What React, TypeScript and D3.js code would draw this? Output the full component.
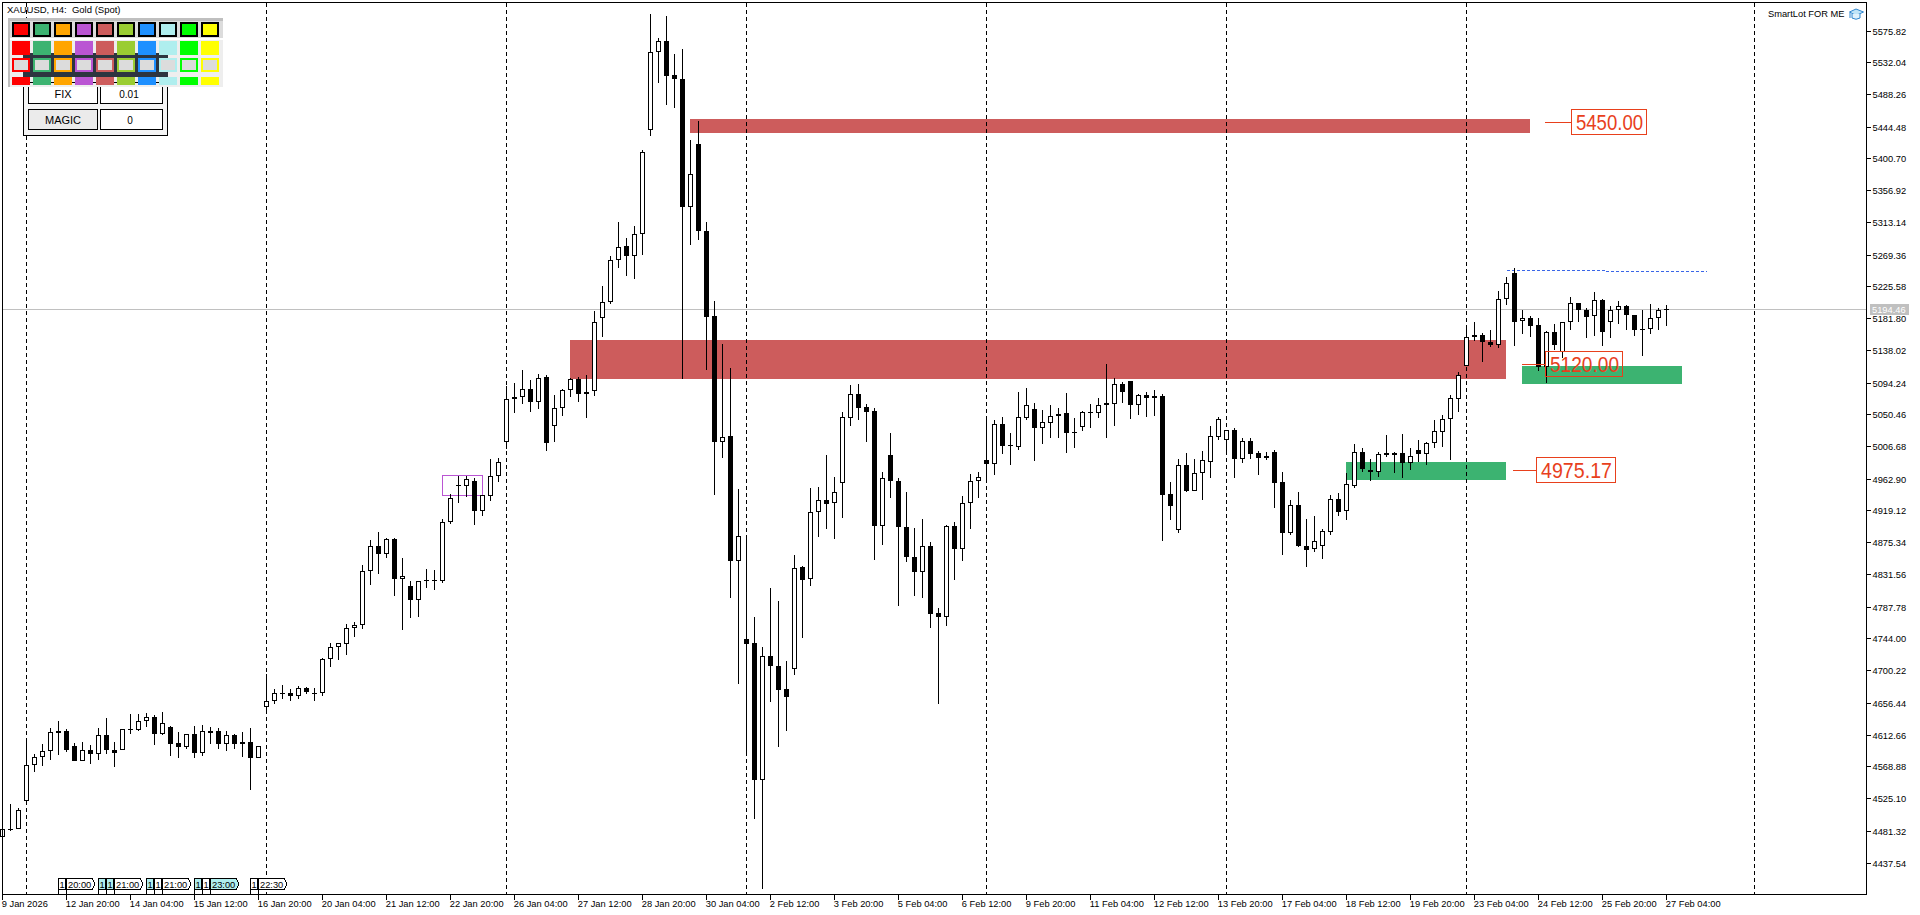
import React from 'react';
import * as d3 from 'd3';

const W = 1920, H = 915;

const opens = [
4472,4484,4484,4521,4571,4582,4590,4618,4617,4597,
4577,4592,4586,4612,4591,4592,4620,4619,4631,4636,
4614,4623,4601,4595,4613,4588,4618,4618,4600,4612,
4602,4602,4581,4650,4658,4670,4669,4666,4676,4670,
4670,4716,4733,4737,4759,4762,4836,4870,4860,4880,
4826,4816,4797,4824,4824,4822,4904,4954,4953,4960,
4919,4939,4966,5013,5071,5074,5085,5068,5102,5035,
5060,5084,5099,5078,5082,5182,5205,5262,5281,5267,
5298,5440,5546,5562,5515,5510,5335,5420,5302,5185,
5013,5021,4850,4743,4738,4550,4720,4707,4675,4702,
4842,4825,4917,4934,4929,4957,5046,5079,5061,5055,
4898,4995,4960,4897,4856,4835,4871,4779,4774,4898,
4867,4930,4960,4988,4983,5037,5009,5006,5046,5058,
5032,5039,5048,5053,5026,5034,5054,5053,5063,5065,
5092,5096,5064,5077,5076,5076,4942,4893,4981,4946,
4971,4986,5020,5015,5029,4990,5014,4998,4994,4999,
4958,4888,4927,4871,4866,4871,4890,4935,4918,4953,
4999,4975,4972,4998,4998,4998,4984,5002,4997,5012,
5027,5044,5072,5117,5159,5159,5149,5146,5208,5244,
5178,5183,5173,5115,5164,5136,5177,5203,5194,5185,
5207,5177,5193,5199,5186,5168,5168,5182,5193.5];

const closes = [
4483,4482,4510,4571,4582,4590,4616,4615,4592,4577,
4592,4586,4612,4591,4588,4620,4619,4631,4636,4614,
4628,4600,4595,4613,4587,4617,4615,4600,4612,4600,
4600,4581,4597,4658,4670,4669,4666,4676,4671,4669,
4716,4733,4738,4759,4762,4836,4870,4860,4880,4826,
4829,4797,4822,4822,4822,4904,4936,4952,4962,4919,
4940,4966,4986,5071,5074,5085,5068,5101,5012,5060,
5084,5099,5078,5081,5177,5205,5262,5279,5267,5298,
5409,5546,5562,5514,5510,5335,5380,5301,5184,5013,
5020,4850,4884,4737,4550,4720,4706,4674,4664,4841,
4824,4917,4933,4928,4944,5047,5079,5060,5054,4898,
4963,4959,4896,4855,4835,4871,4778,4773,4898,4867,
4929,4960,4965,4983,5037,5007,5007,5047,5063,5032,
5040,5048,5051,5025,5025,5054,5053,5063,5066,5092,
5081,5064,5077,5073,5073,4940,4925,4981,4946,4971,
4988,5021,5044,5029,4990,5014,4996,4991,4991,4957,
4888,4926,4871,4865,4878,4891,4935,4917,4955,4999,
4976,4972,4997,4995,4995,4984,4994,4996,5012,5028,
5044,5073,5104,5157,5157,5150,5146,5208,5230,5177,
5183,5172,5115,5164,5145,5177,5203,5193,5184,5207,
5164,5193,5199,5186,5166,5167,5183,5194,5194.46];

const highs = [
4484,4518,4512,4605,4586,4600,4621,4631,4620,4601,
4602,4598,4621,4635,4602,4620,4641,4641,4642,4639,
4644,4624,4616,4614,4624,4626,4623,4621,4618,4613,
4616,4621,4597,4695,4675,4680,4675,4679,4677,4676,
4717,4738,4738,4764,4767,4845,4879,4890,4881,4882,
4854,4822,4822,4839,4838,4907,4942,4966,4966,4964,
4940,4990,4991,5089,5093,5111,5098,5106,5105,5077,
5086,5101,5102,5105,5192,5226,5267,5314,5292,5308,
5412,5598,5566,5596,5544,5551,5426,5452,5314,5206,
5147,5114,4949,4886,4773,4733,4813,4795,4713,4858,
4843,4950,4951,4995,4965,5054,5091,5092,5065,5059,
4972,5025,4963,4945,4895,4908,4876,4786,4899,4903,
4939,4969,4972,5049,5043,5047,5025,5081,5087,5066,
5057,5064,5059,5080,5045,5055,5065,5073,5120,5100,
5095,5096,5079,5081,5084,5079,4958,4990,4998,4990,
5001,5035,5047,5029,5032,5018,5018,5001,4999,5002,
4972,4934,4945,4908,4912,4894,4940,4943,4970,5010,
5004,4990,4999,5022,4999,5024,5004,5016,5013,5043,
5050,5077,5109,5171,5177,5162,5166,5219,5239,5251,
5193,5185,5183,5165,5174,5177,5211,5203,5196,5218,
5209,5199,5206,5200,5187,5193,5201,5196,5200];

const lows = [
4471,4480,4483,4519,4561,4570,4578,4585,4589,4576,
4576,4572,4578,4586,4568,4591,4613,4618,4623,4598,
4612,4583,4581,4593,4581,4583,4600,4593,4590,4593,
4582,4537,4580,4644,4654,4661,4659,4661,4668,4659,
4666,4705,4715,4722,4746,4757,4817,4832,4854,4802,
4756,4772,4773,4813,4810,4820,4901,4929,4938,4899,
4912,4932,4958,5003,5052,5065,5054,5058,5001,5013,
5048,5074,5067,5046,5076,5157,5202,5251,5240,5236,
5269,5432,5504,5474,5470,5099,5282,5289,5111,4940,
4991,4800,4682,4584,4497,4401,4657,4596,4618,4694,
4745,4816,4883,4894,4880,4909,5035,5043,5013,4851,
4872,4936,4789,4849,4802,4800,4758,4654,4761,4824,
4850,4894,4936,4962,4968,4996,4981,5002,5043,4987,
5010,5018,5018,4998,5004,5028,5032,5046,5018,5035,
5066,5044,5050,5047,5048,4877,4906,4888,4945,4946,
4934,4964,5016,4995,4964,4984,4990,4968,4988,4923,
4858,4886,4869,4842,4862,4853,4886,4912,4906,4950,
4972,4960,4965,4992,4970,4964,4974,4986,4981,5004,
5006,4988,5054,5117,5151,5122,5143,5142,5200,5144,
5161,5157,5110,5094,5139,5128,5166,5177,5155,5158,
5144,5155,5174,5166,5158,5131,5161,5166,5172];

const priceTicks = ['5575.82','5532.04','5488.26','5444.48','5400.70','5356.92','5313.14','5269.36','5225.58','5181.80','5138.02','5094.24','5050.46','5006.68','4962.90','4919.12','4875.34','4831.56','4787.78','4744.00','4700.22','4656.44','4612.66','4568.88','4525.10','4481.32','4437.54'];
const timeTicks = ['9 Jan 2026','12 Jan 20:00','14 Jan 04:00','15 Jan 12:00','16 Jan 20:00','20 Jan 04:00','21 Jan 12:00','22 Jan 20:00','26 Jan 04:00','27 Jan 12:00','28 Jan 20:00','30 Jan 04:00','2 Feb 12:00','3 Feb 20:00','5 Feb 04:00','6 Feb 12:00','9 Feb 20:00','11 Feb 04:00','12 Feb 12:00','13 Feb 20:00','17 Feb 04:00','18 Feb 12:00','19 Feb 20:00','23 Feb 04:00','24 Feb 12:00','25 Feb 20:00','27 Feb 04:00'];
const separatorBars = [3,33,63,93,123,153,183,219];

const currentPrice = 5194.46;
const zoneStarts = [71,86,190,168];
const zoneEnds = [188,191,210,188];
const zoneTops = [5152.4,5454.7,5116.8,4985.5];
const zoneBottoms = [5099,5435.6,5092,4960.9];
const zoneColors = ['#CD5C5C','#CD5C5C','#3CB371','#3CB371'];

const levelValues = [5450,5120,4975.17];
const levelTexts = ['5450.00','5120.00','4975.17'];
const levelLineStartBars = [192.8,189.9,188.8];
const levelLineLengths = [26,23,23];
const levelBoxWidths = [75,77,79];

const swatches = ['#FF0000','#3CB371','#FFA500','#BA55D3','#CD5C5C','#9ACD32','#1E90FF','#AFEEEE','#00FF00','#FFFF00'];

const markerBars = [7,8,12,13,14,18,19,20,24,25,26,31,32];
const markerTexts = ['1','20:00','1','1','21:00','1','1','21:00','1','1','23:00','1','22:30'];
const markerShaded = [0,0,1,1,0,1,0,0,1,0,1,0,0];

const FONT = '"Liberation Sans", Arial, sans-serif';
const x = d3.scaleLinear().domain([0, 1]).range([2.5, 10.5]);
const y = d3.scaleLinear().domain([5575.82, 4437.54]).range([30.5, 862.5]);
const tickX = d3.scaleLinear().domain([0, 1]).range([2, 66]);
const L = 2, T = 2, R = 1867, B = 894;

function Candle({ i }: { i: number }) {
  const xc = x(i);
  const up = closes[i] >= opens[i];
  const t = Math.round(y(Math.max(opens[i], closes[i])));
  const b = Math.round(y(Math.min(opens[i], closes[i])));
  const h = b - t;
  const hi = Math.round(y(highs[i]));
  const lo = Math.round(y(lows[i]));
  return (
    <g>
      <line x1={xc} x2={xc} y1={hi} y2={lo} stroke="#000" />
      {up && h > 2
        ? <rect x={xc - 2} y={t + 0.5} width={4} height={h - 1} fill="#fff" stroke="#000" />
        : <rect x={xc - 2.5} y={t} width={5} height={Math.max(h, 1)} fill="#000" />}
    </g>
  );
}

function Panel() {
  const sx = (k: number) => 12 + 21 * k;
  return (
    <g shapeRendering="crispEdges" fontFamily={FONT}>
      {/* trade panel */}
      <rect x={23.5} y={53.5} width={144} height={82} fill="#f4f4f4" stroke="#000" />
      <rect x={28.5} y={84.5} width={69} height={19} fill="#fff" stroke="#000" />
      <rect x={100.5} y={84.5} width={62} height={19} fill="#fff" stroke="#000" />
      <rect x={28.5} y={109.5} width={69} height={20} fill="#ebebeb" stroke="#000" />
      <rect x={100.5} y={109.5} width={62} height={20} fill="#fff" stroke="#000" />
      <text x={63} y={98} textAnchor="middle" fontSize={11} fill="#000">FIX</text>
      <text x={129} y={98} textAnchor="middle" fontSize={10} fill="#000">0.01</text>
      <text x={63} y={124} textAnchor="middle" fontSize={11} fill="#000">MAGIC</text>
      <text x={130} y={124} textAnchor="middle" fontSize={10} fill="#000">0</text>
      {/* colour picker */}
      <rect x={8} y={18} width={215} height={69} fill="#dcdcdc" />
      <rect x={8} y={18} width={215} height={3} fill="#bfbfbf" />
      <rect x={8} y={18} width={2} height={69} fill="#bfbfbf" />
      <rect x={10} y={39} width={213} height={48} fill="#eeeeee" />
      <rect x={10} y={38} width={213} height={2} fill="#ffffff" />
      <rect x={23} y={53} width={145} height={24} fill="#2d3540" />
      <line x1={23} x2={168} y1={82.5} y2={82.5} stroke="#000" />
      {swatches.map((c, k) => (
        <g key={c}>
          <rect x={sx(k) + 1} y={23} width={16} height={13} fill={c} stroke="#000" strokeWidth={2} />
          <rect x={sx(k)} y={41} width={18} height={14} fill={c} />
          <rect x={sx(k)} y={58} width={18} height={14} fill={c} />
          <rect x={sx(k) + 2} y={60} width={14} height={10} fill="#dcdcdc" />
          <rect x={sx(k)} y={77} width={18} height={8} fill={c} />
        </g>
      ))}
    </g>
  );
}

export default function App() {
  const bars = d3.range(opens.length);
  const fs = 9.3;
  return (
    <svg width={W} height={H} viewBox={`0 0 ${W} ${H}`} style={{ position: 'fixed', left: 0, top: 0, display: 'block', background: '#fff' }} fontFamily={FONT}>
      <rect width={W} height={H} fill="#fff" />

      {/* zones */}
      <g shapeRendering="crispEdges">
        {zoneStarts.map((s, k) => (
          <rect key={k} x={x(s) - 0.5} width={x(zoneEnds[k]) - x(s)} y={Math.round(y(zoneTops[k]))} height={Math.round(y(zoneBottoms[k])) - Math.round(y(zoneTops[k]))} fill={zoneColors[k]} />
        ))}
        {/* rectangle around the small range */}
        <rect x={x(55)} y={475.5} width={x(60) - x(55)} height={20} fill="none" stroke="#BA55D3" />
        {/* separators */}
        {separatorBars.map(b => (
          <line key={b} x1={x(b)} x2={x(b)} y1={T + 1} y2={B} stroke="#000" strokeDasharray="4 3" />
        ))}
        {/* last price line */}
        <line x1={L} x2={R} y1={Math.round(y(currentPrice)) + 0.5} y2={Math.round(y(currentPrice)) + 0.5} stroke="#C0C0C0" />
        {/* blue dashed */}
        <line x1={x(188)} x2={x(200.4)} y1={270.5} y2={270.5} stroke="#3A66E8" strokeDasharray="3 2" />
        <line x1={x(200.4)} x2={x(213)} y1={271.5} y2={271.5} stroke="#3A66E8" strokeDasharray="3 2" />
      </g>

      {/* candles */}
      <g shapeRendering="crispEdges">
        {bars.map(i => <Candle key={i} i={i} />)}
      </g>

      {/* level labels */}
      {levelValues.map((v, k) => {
        const ly = Math.round(y(v)) + 0.5;
        const x0 = x(levelLineStartBars[k]);
        const bx = x0 + levelLineLengths[k];
        return (
          <g key={k}>
            <line x1={x0} x2={bx} y1={ly} y2={ly} stroke="#E8401C" shapeRendering="crispEdges" />
            <rect x={Math.round(bx) + 0.5} y={ly - 13} width={levelBoxWidths[k]} height={25} fill="none" stroke="#E8401C" shapeRendering="crispEdges" />
            <text x={Math.round(bx) + 5} y={ly + 7.5} fontSize={22} fill="#E8401C" textLength={levelBoxWidths[k] - 8} lengthAdjust="spacingAndGlyphs">{levelTexts[k]}</text>
          </g>
        );
      })}

      {/* frame */}
      <g shapeRendering="crispEdges" stroke="#000" fill="none">
        <path d={`M${L + 0.5},${B + 6} V${T + 0.5} H${R - 0.5} V${B + 0.5} H${L + 0.5}`} />
      </g>

      {/* price axis */}
      {priceTicks.map(t => {
        const yy = Math.round(y(+t)) + 0.5;
        return (
          <g key={t}>
            <line x1={R - 1} x2={R + 4} y1={yy} y2={yy} stroke="#000" shapeRendering="crispEdges" />
            <text x={R + 5.5} y={yy + 3.5} fontSize={fs} fill="#000">{t}</text>
          </g>
        );
      })}
      <rect x={1870} y={304} width={39} height={11} fill="#C0C0C0" shapeRendering="crispEdges" />
      <text x={1872} y={313} fontSize={fs} fill="#fff">{currentPrice.toFixed(2)}</text>

      {/* time axis */}
      {timeTicks.map((t, k) => (
        <g key={t}>
          <line x1={tickX(k) + 0.5} x2={tickX(k) + 0.5} y1={B} y2={B + 6} stroke="#000" shapeRendering="crispEdges" />
          <text x={tickX(k) - 0.2} y={906.5} fontSize={fs} fill="#000">{t}</text>
        </g>
      ))}

      {/* session markers */}
      {markerBars.map((b, k) => {
        const l = x(b);
        const wide = markerTexts[k].length > 1;
        const d = wide
          ? `M${l},878.5 H${l + 26} L${l + 28.5},884 L${l + 26},889.5 H${l} Z`
          : `M${l},878.5 H${l + 7} V889.5 H${l} Z`;
        return (
          <g key={k}>
            <path d={d} fill={markerShaded[k] ? '#AFEEEE' : '#fff'} stroke="#000" shapeRendering="crispEdges" />
            <line x1={l} x2={l} y1={889} y2={B} stroke="#000" shapeRendering="crispEdges" />
            <text x={wide ? l + 1.5 : l + 3.5} y={887.5} textAnchor={wide ? 'start' : 'middle'} fontSize={fs} fill="#000">{markerTexts[k]}</text>
          </g>
        );
      })}

      {/* titles */}
      <text x={7} y={13} fontSize={9.5} fill="#000" style={{ whiteSpace: 'pre' }}>XAUUSD, H4:  Gold (Spot)</text>
      <text x={1768} y={17} fontSize={fs} fill="#000">SmartLot FOR ME</text>
      <g stroke="#2f86cf" fill="#bfe4f7" strokeWidth={1}>
        <path d="M1849.5,12 L1856,9 L1863.5,12 L1856,15.5 Z" />
        <path d="M1852,14 V18 Q1856,20.5 1860,18 V14" fill="#dff1fb" />
        <path d="M1850,12.5 V18" fill="none" />
      </g>

      <Panel />
    </svg>
  );
}
